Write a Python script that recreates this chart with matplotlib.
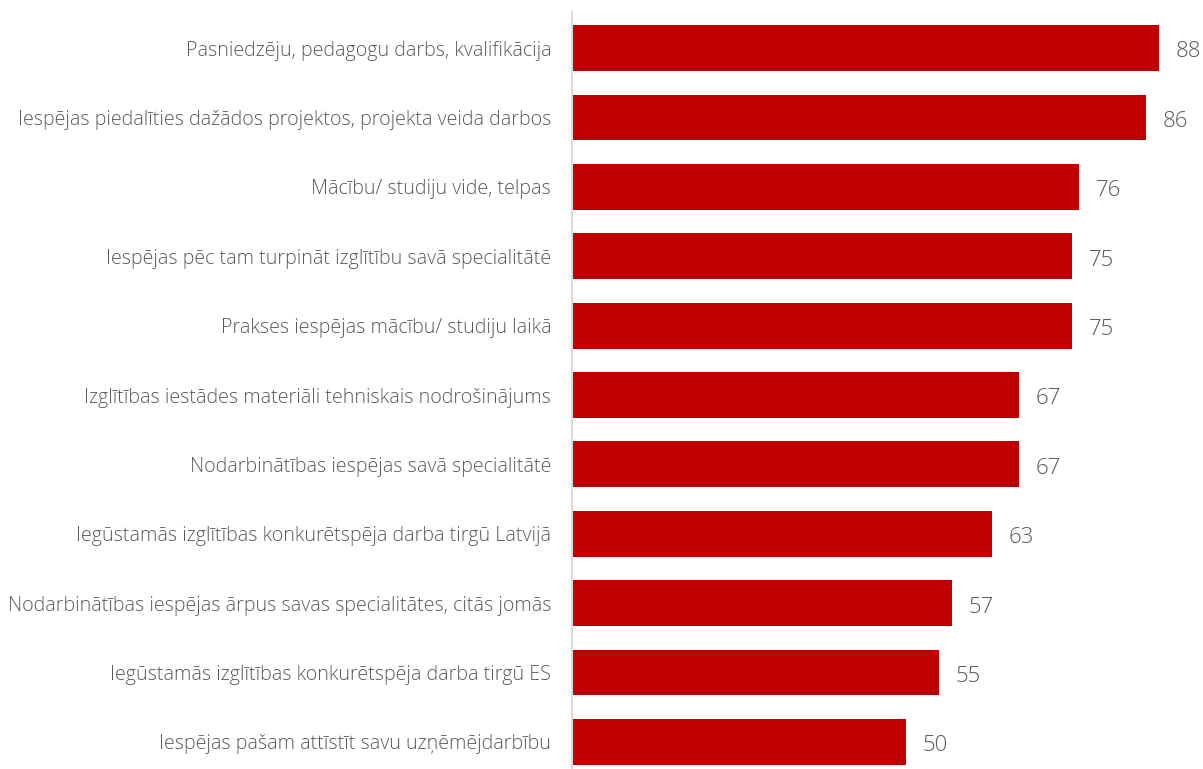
import matplotlib.pyplot as plt

categories = [
    "Pasniedzēju, pedagogu darbs, kvalifikācija",
    "Iespējas piedalīties dažādos projektos, projekta veida darbos",
    "Mācību/ studiju vide, telpas",
    "Iespējas pēc tam turpināt izglītību savā specialitātē",
    "Prakses iespējas mācību/ studiju laikā",
    "Izglītības iestādes materiāli tehniskais nodrošinājums",
    "Nodarbinātības iespējas savā specialitātē",
    "Iegūstamās izglītības konkurētspēja darba tirgū Latvijā",
    "Nodarbinātības iespējas ārpus savas specialitātes, citās jomās",
    "Iegūstamās izglītības konkurētspēja darba tirgū ES",
    "Iespējas pašam attīstīt savu uzņēmējdarbību",
]
values = [88, 86, 76, 75, 75, 67, 67, 63, 57, 55, 50]

bar_color = "#C00000"
text_color = "#595959"
plt.rcParams['font.family'] = ['Open Sans', 'DejaVu Sans']

fig = plt.figure(figsize=(12.03, 7.69), dpi=100)
ax = fig.add_axes([572 / 1203, 0, 1 - 572 / 1203, 757 / 769])

pos = list(range(len(values)))
ax.barh(pos, values, height=0.66, color=bar_color)
ax.set_ylim(10.39, -0.52)
ax.set_xlim(0, 94.6)

# value labels at bar ends
for p, v in zip(pos, values):
    ax.annotate(str(v), (v, p), xytext=(12, -1), textcoords='offset points',
                ha='left', va='center_baseline', fontsize=16, color=text_color,
                fontweight='light')

ax.set_yticks(pos)
ax.set_yticklabels(categories, fontsize=14.1, color=text_color, fontweight='light')
ax.tick_params(axis='y', length=0, pad=15)
ax.set_xticks([])
for s in ['top', 'right', 'bottom']:
    ax.spines[s].set_visible(False)
ax.spines['left'].set_color('#D9D9D9')
ax.spines['left'].set_linewidth(1.5)

fig.savefig('out.png', dpi=100)
